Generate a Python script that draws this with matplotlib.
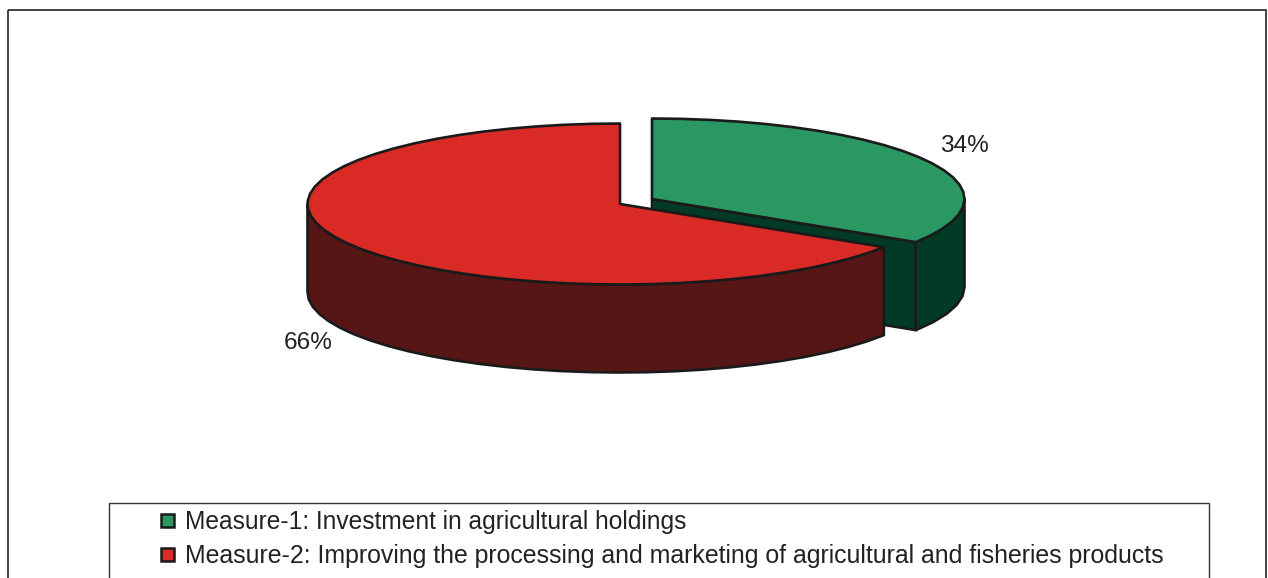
import numpy as np
import matplotlib
matplotlib.use('Agg')
import matplotlib.pyplot as plt
from matplotlib.patches import Polygon, Rectangle

plt.rcParams['font.family'] = ['Liberation Sans', 'DejaVu Sans']

# data
labels = ['Measure-1: Investment in agricultural holdings',
          'Measure-2: Improving the processing and marketing of agricultural and fisheries products']
values = [34, 66]
pct_labels = ['34%', '66%']
top_colors = ['#2B9763', '#DA2A26']
side_colors = ['#013B25', '#571616']

W, H = 1268, 578
EDGE = '#1a1a1a'

fig = plt.figure(figsize=(W / 100, H / 100), dpi=100)
ax = fig.add_axes([0, 0, 1, 1])
ax.set_xlim(0, W)
ax.set_ylim(H, 0)
ax.axis('off')

# pie geometry, pixels
RX, RY, DEPTH = 312.5, 80.5, 88
centers = [(652, 199), (620, 204)]


def arc(c, t0, t1):
    # rough steps, the original outline is a bit polygonal too
    n = max(int(abs(t1 - t0) / 5), 2)
    t = np.radians(np.linspace(t0, t1, n))
    return np.column_stack([c[0] + RX * np.cos(t), c[1] - RY * np.sin(t)])


# clockwise from 12 o'clock for measure 1, the rest goes on round
ang = 360 * values[0] / sum(values)
g_t0, g_t1 = 90, 90 - ang
r_t0, r_t1 = 90, 90 + (360 - ang)
lw = 1.9
kw = dict(edgecolor=EDGE, linewidth=lw, joinstyle='round')

# green slice: cut face, outer side, top
gc = centers[0]
g_end = arc(gc, g_t1, g_t1)[0]
ax.add_patch(Polygon([gc, g_end, g_end + [0, DEPTH], (gc[0], gc[1] + DEPTH)],
                     facecolor=side_colors[0], **kw))
outer = arc(gc, 0, g_t1)
ax.add_patch(Polygon(np.vstack([outer, (outer + [0, DEPTH])[::-1]]),
                     facecolor=side_colors[0], **kw))
ax.add_patch(Polygon(np.vstack([[gc], arc(gc, g_t0, g_t1)]), facecolor=top_colors[0], **kw))

# red slice: outer side, top
rc = centers[1]
outer = arc(rc, 180, r_t1)
ax.add_patch(Polygon(np.vstack([outer, (outer + [0, DEPTH])[::-1]]),
                     facecolor=side_colors[1], **kw))
ax.add_patch(Polygon(np.vstack([[rc], arc(rc, r_t0, r_t1)]), facecolor=top_colors[1], **kw))

# percent labels
ax.text(964, 146, pct_labels[0], fontsize=17.6, color='#222222', ha='center', va='center')
ax.text(308, 343, pct_labels[1], fontsize=17.6, color='#222222', ha='center', va='center')

# outer frame and legend box
ax.add_patch(Rectangle((8, 9.5), 1258, 600, fill=False, edgecolor='#222222', linewidth=1.2))
ax.add_patch(Rectangle((108.5, 503), 1100.5, 80, fill=False, edgecolor='#333333', linewidth=1.0))

ys = [520, 554]
sizes = [17.65, 17.95]
for y, lab, col, fs in zip(ys, labels, top_colors, sizes):
    ax.add_patch(Rectangle((161, y - 6.5), 13, 13, facecolor=col, edgecolor=EDGE, linewidth=1.8))
    ax.text(185, y + 1.5, lab, fontsize=fs, color='#222222', ha='left', va='center')

fig.savefig('out.png', dpi=100)
